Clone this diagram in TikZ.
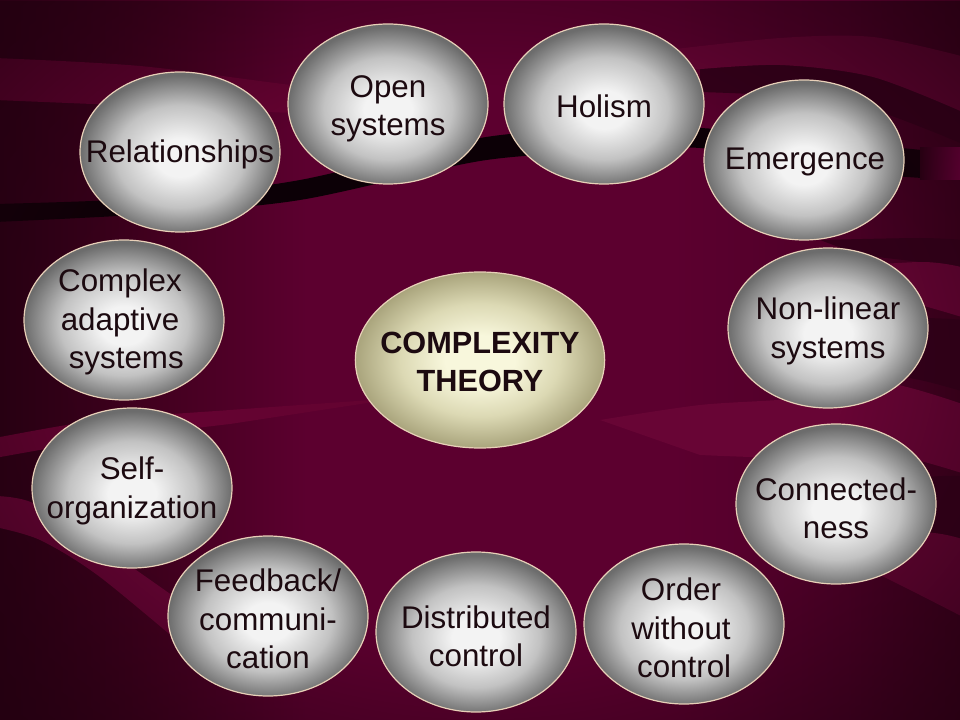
\documentclass[tikz,border=0pt]{standalone}
\usepackage{fontspec}
\setmainfont{Liberation Sans}
\usetikzlibrary{shapes.geometric,fadings}

\definecolor{bgA}{HTML}{2A0014}
\definecolor{bgB}{HTML}{42001F}
\definecolor{bgC}{HTML}{5C002F}
\definecolor{bgD}{HTML}{4E0028}
\definecolor{bgE}{HTML}{3C001D}
\definecolor{bandlight}{HTML}{680535}
\definecolor{bandlightB}{HTML}{640331}
\definecolor{banddark}{HTML}{33001A}
\definecolor{bandblack}{HTML}{0C0006}
\definecolor{pinkL}{HTML}{2A0014}
\definecolor{pinkM}{HTML}{A2005A}
\definecolor{pinkR}{HTML}{7A0044}
\definecolor{gA}{HTML}{F3F3F3}
\definecolor{gM}{HTML}{C2C2C2}
\definecolor{gB}{HTML}{6C6C6C}
\definecolor{cA}{HTML}{F8F7DC}
\definecolor{cM}{HTML}{DCD9B4}
\definecolor{cB}{HTML}{A9A47C}
\definecolor{rimcol}{HTML}{E8D0B8}
\definecolor{txtcol}{HTML}{1C0A10}
\definecolor{vigcol}{HTML}{220010}

\pgfdeclarehorizontalshading{bgshade}{100bp}{color(0bp)=(bgA); color(25bp)=(bgA); color(33bp)=(bgB); color(41bp)=(bgC); color(60bp)=(bgC); color(69bp)=(bgD); color(75bp)=(bgE); color(100bp)=(bgE)}
\pgfdeclareradialshading{greyball}{\pgfpoint{0bp}{-2bp}}{color(0bp)=(gA); color(6bp)=(gA); color(16bp)=(gM); color(25bp)=(gB); color(50bp)=(gB)}
\pgfdeclareradialshading{creamball}{\pgfpoint{0bp}{0bp}}{color(0bp)=(cA); color(7bp)=(cA); color(16bp)=(cM); color(25bp)=(cB); color(50bp)=(cB)}
\pgfdeclareradialshading{vignshade}{\pgfpoint{0bp}{0bp}}{color(0bp)=(black); color(19bp)=(black); color(36bp)=(white!75!black); color(50bp)=(white!75!black)}
\pgfdeclarefading{vign}{\pgfuseshading{vignshade}}

\tikzset{
  bub/.style={ellipse, draw=rimcol, line width=0.9pt, shading=greyball,
    minimum width=150pt, minimum height=120pt, inner sep=0pt},
  hub/.style={bub, shading=creamball, minimum width=187pt, minimum height=132pt},
  lbl/.style={inner sep=0pt, align=center, text=txtcol,
    font=\fontsize{23.5pt}{28.8pt}\selectfont},
  hublbl/.style={lbl, font=\bfseries\fontsize{23pt}{29pt}\selectfont},
}

\begin{document}
\begin{tikzpicture}[x=0.75pt,y=-0.75pt]
\useasboundingbox (0,0) rectangle (960,720);
\begin{scope}
\clip (0,0) rectangle (960,720);
% base
\shade[shading=bgshade] (0,0) rectangle (960,720);
% top-left light band
\fill[bandlightB] plot[smooth] coordinates {(-5,58) (140,66) (300,86) (430,98)}
  -- plot[smooth] coordinates {(430,110) (300,113) (140,106) (-5,100)} -- cycle;
% top-right light band and dark band below
\fill[banddark] plot[smooth] coordinates {(700,68) (780,64) (873,76) (965,113)}
  -- plot[smooth] coordinates {(965,145) (873,110) (780,96) (700,92)} -- cycle;
\fill[bandlight] plot[smooth] coordinates {(650,52) (780,38) (873,37) (965,57)}
  -- plot[smooth] coordinates {(965,113) (873,77) (780,65) (690,70)} -- cycle;
% right-side bands
\fill[banddark] plot[smooth] coordinates {(820,240) (920,238) (965,240)}
  -- plot[smooth] coordinates {(965,268) (920,262) (860,255)} -- cycle;
\fill[bandlight] plot[smooth] coordinates {(800,270) (920,262) (965,268)}
  -- plot[smooth] coordinates {(965,318) (920,305) (860,292)} -- cycle;
\fill[banddark] plot[smooth] coordinates {(800,320) (920,318) (965,320)}
  -- plot[smooth] coordinates {(965,392) (920,380) (860,370)} -- cycle;
\fill[bandlight] plot[smooth] coordinates {(600,420) (700,405) (800,398) (880,382) (965,405)}
  -- plot[smooth] coordinates {(965,474) (880,452) (800,458) (700,455)} -- cycle;
\fill[banddark] plot[smooth] coordinates {(800,500) (920,478) (965,476)}
  -- plot[smooth] coordinates {(965,540) (920,530) (860,525)} -- cycle;
\fill[bandlight] plot[smooth] coordinates {(820,555) (920,533) (965,540)}
  -- plot[smooth] coordinates {(965,618) (920,595) (870,570)} -- cycle;
% bottom-left bands
\fill[bandlightB] plot[smooth] coordinates {(-5,438) (100,420) (230,410) (400,398)}
  -- plot[smooth] coordinates {(230,424) (100,440) (-5,458)} -- cycle;
\fill[bandlight] plot[smooth] coordinates {(-5,496) (33,503) (100,545) (200,615)}
  -- plot[smooth] coordinates {(200,660) (100,577) (40,540) (-5,527)} -- cycle;
% black band
\fill[bandblack] plot[smooth] coordinates {(-5,204) (150,198) (300,180) (480,138) (600,129) (700,128) (800,138) (922,150)}
  -- plot[smooth] coordinates {(922,178) (800,168) (700,148) (600,152) (480,161) (300,200) (150,214) (-5,222)} -- cycle;
\fill[left color=pinkL, middle color=pinkM, right color=pinkR] (920,148) rectangle (962,180);
% vignette
\fill[vigcol, path fading=vign, fit fading=true] (0,0) rectangle (960,720);
\end{scope}

% bubbles
\node[bub] (rel)  at (180,152) {};
\node[bub] (open) at (388,104) {};
\node[bub] (hol)  at (604,104) {};
\node[bub] (emg)  at (804,160) {};
\node[bub] (cas)  at (124,320) {};
\node[bub] (nls)  at (828,328) {};
\node[hub] (ct)   at (480,360) {};
\node[bub] (self) at (132,488) {};
\node[bub] (con)  at (836,504) {};
\node[bub] (fb)   at (268,616) {};
\node[bub] (dc)   at (476,632) {};
\node[bub] (owc)  at (684,624) {};

% labels
\node[lbl] (rel-t)  at (180,154) {Relationships};
\node[lbl] (open-t) at (388,109) {Open\\systems};
\node[lbl] (hol-t)  at (604,106) {Holism};
\node[lbl] (emg-t)  at (805,162) {Emergence};
\node[lbl] (cas-t)  at (120,322) {Complex\\adaptive\\\hspace*{0.4em}systems};
\node[lbl] (nls-t)  at (828,331) {Non-linear\\systems};
\node[hublbl] (ct-t) at (480,362) {COMPLEXITY\\THEORY};
\node[lbl] (self-t) at (132,491) {Self-\\organization};
\node[lbl] (con-t)  at (836,508) {Connected-\\ness};
\node[lbl] (fb-t)   at (268,619) {Feedback/\\communi-\\cation};
\node[lbl] (dc-t)   at (476,636) {Distributed\\control};
\node[lbl] (owc-t)  at (681,628) {Order\\without\\\hspace*{0.2em}control};
\end{tikzpicture}
\end{document}
